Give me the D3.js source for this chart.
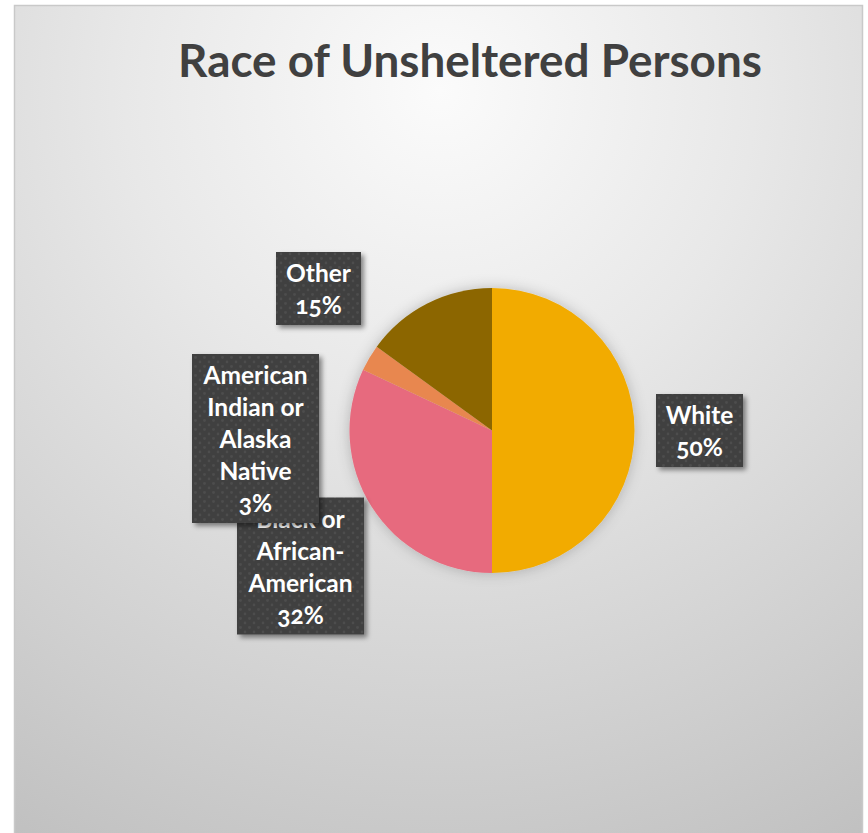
<!DOCTYPE html>
<html>
<head>
<meta charset="utf-8">
<script src="https://cdn.jsdelivr.net/npm/d3@7"></script>
<style>
  html, body { margin: 0; padding: 0; background: #ffffff; }
  svg { display: block; }
</style>
</head>
<body>
<svg id="chart" width="868" height="833"></svg>
<script>
// ---- data ----
const categories = ["White", "Black or African-American", "American Indian or Alaska Native", "Other"];
const values = [50, 32, 3, 15];
const labelLines = [
  ["White", "50%"],
  ["Black or", "African-", "American", "32%"],
  ["American", "Indian or", "Alaska", "Native", "3%"],
  ["Other", "15%"]
];
const colors = ["#F2AB00", "#E76B7E", "#E8874F", "#8C6600"];
const title = "Race of Unsheltered Persons";

// ---- layout (label box placement, as in the reference) ----
const labelBoxes = [
  { cx: 699.5, cy: 430.5, w: 87 },
  { cx: 300.5, cy: 566, w: 127 },
  { cx: 255.5, cy: 438.5, w: 127 },
  { cx: 318.5, cy: 288.5, w: 85 }
];
const drawOrder = [0, 3, 1, 2];

const svg = d3.select("#chart");
const defs = svg.append("defs");

const bg = defs.append("radialGradient").attr("id", "bg")
  .attr("gradientUnits", "userSpaceOnUse")
  .attr("cx", 440).attr("cy", 90).attr("r", 900);
bg.append("stop").attr("offset", "0").attr("stop-color", "#fbfbfb");
bg.append("stop").attr("offset", "0.35").attr("stop-color", "#e8e8e8");
bg.append("stop").attr("offset", "0.75").attr("stop-color", "#cecece");
bg.append("stop").attr("offset", "1").attr("stop-color", "#bdbdbd");

const pat = defs.append("pattern").attr("id", "dots")
  .attr("patternUnits", "userSpaceOnUse").attr("width", 9).attr("height", 9);
pat.append("rect").attr("width", 9).attr("height", 9).attr("fill", "#3f3f3f");
pat.append("circle").attr("cx", 2).attr("cy", 2).attr("r", 1.4).attr("fill", "#4d4d4d");
pat.append("circle").attr("cx", 6.5).attr("cy", 6.5).attr("r", 1.4).attr("fill", "#4d4d4d");

const boxShadow = defs.append("filter").attr("id", "boxShadow")
  .attr("x", "-20%").attr("y", "-20%").attr("width", "150%").attr("height", "150%");
boxShadow.append("feDropShadow").attr("dx", 3).attr("dy", 3).attr("stdDeviation", 2.5)
  .attr("flood-color", "#000").attr("flood-opacity", 0.45);

const pieShadow = defs.append("filter").attr("id", "pieShadow")
  .attr("x", "-20%").attr("y", "-20%").attr("width", "140%").attr("height", "140%");
pieShadow.append("feDropShadow").attr("dx", 0).attr("dy", 0).attr("stdDeviation", 7)
  .attr("flood-color", "#000").attr("flood-opacity", 0.22);

// chart area
svg.append("rect").attr("x", 14.5).attr("y", 5.5).attr("width", 848).attr("height", 840)
  .attr("fill", "url(#bg)").attr("stroke", "#c9c9c9").attr("stroke-width", 1.5);

// title
const t = svg.append("text")
  .attr("x", 470).attr("y", 77)
  .attr("text-anchor", "middle")
  .attr("font-family", "Lato, 'Open Sans', sans-serif")
  .attr("font-weight", "bold")
  .attr("font-size", 40)
  .attr("fill", "#404040")
  .text(title);
const tw = t.node().getComputedTextLength();
t.attr("font-size", 40 * 584 / tw);

// pie
const cx = 492, cy = 430.5, R = 142.5;
const pie = d3.pie().sort(null).value(d => d)(values);
const arc = d3.arc().innerRadius(0).outerRadius(R);
const g = svg.append("g").attr("transform", `translate(${cx},${cy})`);
g.append("g").attr("filter", "url(#pieShadow)")
  .selectAll("path").data(pie).join("path")
  .attr("d", arc)
  .attr("fill", (d, i) => colors[i]);

// labels
const lineH = 32;
const lg = svg.append("g");
drawOrder.forEach(i => {
  const lines = labelLines[i];
  const b = labelBoxes[i];
  const h = 41 + lineH * (lines.length - 1);
  const x0 = b.cx - b.w / 2, y0 = b.cy - h / 2;
  const grp = lg.append("g");
  grp.append("rect").attr("x", x0).attr("y", y0).attr("width", b.w).attr("height", h)
    .attr("fill", "url(#dots)").attr("filter", "url(#boxShadow)");
  const txt = grp.append("text")
    .attr("text-anchor", "middle")
    .attr("font-family", "Lato, 'Open Sans', sans-serif")
    .attr("font-weight", "bold")
    .attr("font-size", 24.5)
    .attr("fill", "#ffffff")
    .style("font-variant-numeric", "oldstyle-nums");
  lines.forEach((ln, k) => {
    txt.append("tspan").attr("x", b.cx).attr("y", y0 + 30 + k * lineH).text(ln);
  });
});
</script>
</body>
</html>
